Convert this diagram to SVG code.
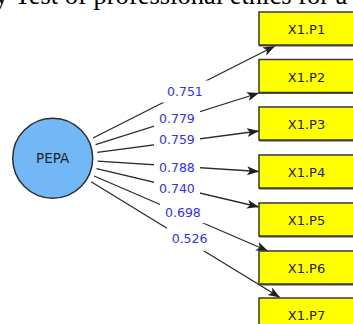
<svg xmlns="http://www.w3.org/2000/svg" width="353" height="324" viewBox="0 0 353 324">
<defs>
<style>
.title{font-family:"Liberation Serif","Times New Roman",serif;font-size:26.5px;fill:#000}
.edge{stroke:#2a2a2a;stroke-width:1.3;fill:none;marker-end:url(#arr)}
.lblbg{fill:#fff;stroke:none}
.lbl{font-family:"DejaVu Sans",Verdana,sans-serif;font-size:12.5px;fill:#2f2fff}
.box{fill:#ffff00;stroke:#3a3a30;stroke-width:1.5}
.shadow{fill:#555;stroke:none}
.btxt{font-family:"DejaVu Sans",Verdana,sans-serif;font-size:13px;fill:#222;text-anchor:middle}
.circ{fill:#72b8f6;stroke:#2f2f2f;stroke-width:1.5}
</style>
<marker id="arr" markerUnits="userSpaceOnUse" markerWidth="13" markerHeight="10" refX="12" refY="4.5" orient="auto">
<path d="M0,0 L12,4.5 L0,9 L3,4.5 z" fill="#1e1e1e"/>
</marker>
</defs>
<rect width="353" height="324" fill="#fff"/>
<text class="title" x="-5" y="4">y Test of professional ethics for a</text>
<g id="connectors">
<line class="edge" x1="93" y1="138" x2="275" y2="46"/>
<line class="edge" x1="95.6" y1="144.7" x2="259" y2="93"/>
<line class="edge" x1="97.3" y1="152.4" x2="259" y2="131"/>
<line class="edge" x1="97.6" y1="161.2" x2="259" y2="171.5"/>
<line class="edge" x1="96.5" y1="168.6" x2="259" y2="207"/>
<line class="edge" x1="94.1" y1="176" x2="268" y2="251"/>
<line class="edge" x1="91.1" y1="181.8" x2="280" y2="297.5"/>
<rect class="lblbg" x="162" y="80.5" width="46" height="22"/>
<text class="lbl" x="167" y="96">0.751</text>
<rect class="lblbg" x="154" y="107.8" width="46" height="21"/>
<text class="lbl" x="159" y="123.3">0.779</text>
<rect class="lblbg" x="154" y="129" width="46" height="21.5"/>
<text class="lbl" x="159" y="144.3">0.759</text>
<rect class="lblbg" x="154" y="156.2" width="46" height="22"/>
<text class="lbl" x="159" y="171.7">0.788</text>
<rect class="lblbg" x="154" y="178.5" width="46" height="21.5"/>
<text class="lbl" x="159" y="193.3">0.740</text>
<rect class="lblbg" x="160" y="201.2" width="46" height="22"/>
<text class="lbl" x="165" y="216.7">0.698</text>
<rect class="lblbg" x="166.7" y="227.8" width="46" height="23"/>
<text class="lbl" x="171.7" y="243.3">0.526</text>
</g>
<g id="PEPA">
<circle class="circ" cx="52.7" cy="158.3" r="40"/>
<text class="btxt" x="52.7" y="163" style="font-size:13.5px">PEPA</text>
</g>
<g id="X1.P1">
<rect class="shadow" x="259" y="13" width="96" height="33.5"/>
<rect class="box" x="259" y="12" width="95" height="33"/>
<text class="btxt" x="306.5" y="34">X1.P1</text>
</g>
<g id="X1.P2">
<rect class="shadow" x="259" y="60.5" width="96" height="33.5"/>
<rect class="box" x="259" y="59.5" width="95" height="33"/>
<text class="btxt" x="306.5" y="81.5">X1.P2</text>
</g>
<g id="X1.P3">
<rect class="shadow" x="259" y="108" width="96" height="33.5"/>
<rect class="box" x="259" y="107" width="95" height="33"/>
<text class="btxt" x="306.5" y="129">X1.P3</text>
</g>
<g id="X1.P4">
<rect class="shadow" x="259" y="156" width="96" height="33.5"/>
<rect class="box" x="259" y="155" width="95" height="33"/>
<text class="btxt" x="306.5" y="177">X1.P4</text>
</g>
<g id="X1.P5">
<rect class="shadow" x="259" y="204" width="96" height="33.5"/>
<rect class="box" x="259" y="203" width="95" height="33"/>
<text class="btxt" x="306.5" y="225">X1.P5</text>
</g>
<g id="X1.P6">
<rect class="shadow" x="259" y="252" width="96" height="33.5"/>
<rect class="box" x="259" y="251" width="95" height="33"/>
<text class="btxt" x="306.5" y="273">X1.P6</text>
</g>
<g id="X1.P7">
<rect class="shadow" x="259" y="299" width="96" height="33.5"/>
<rect class="box" x="259" y="298" width="95" height="33"/>
<text class="btxt" x="306.5" y="320">X1.P7</text>
</g>
</svg>
